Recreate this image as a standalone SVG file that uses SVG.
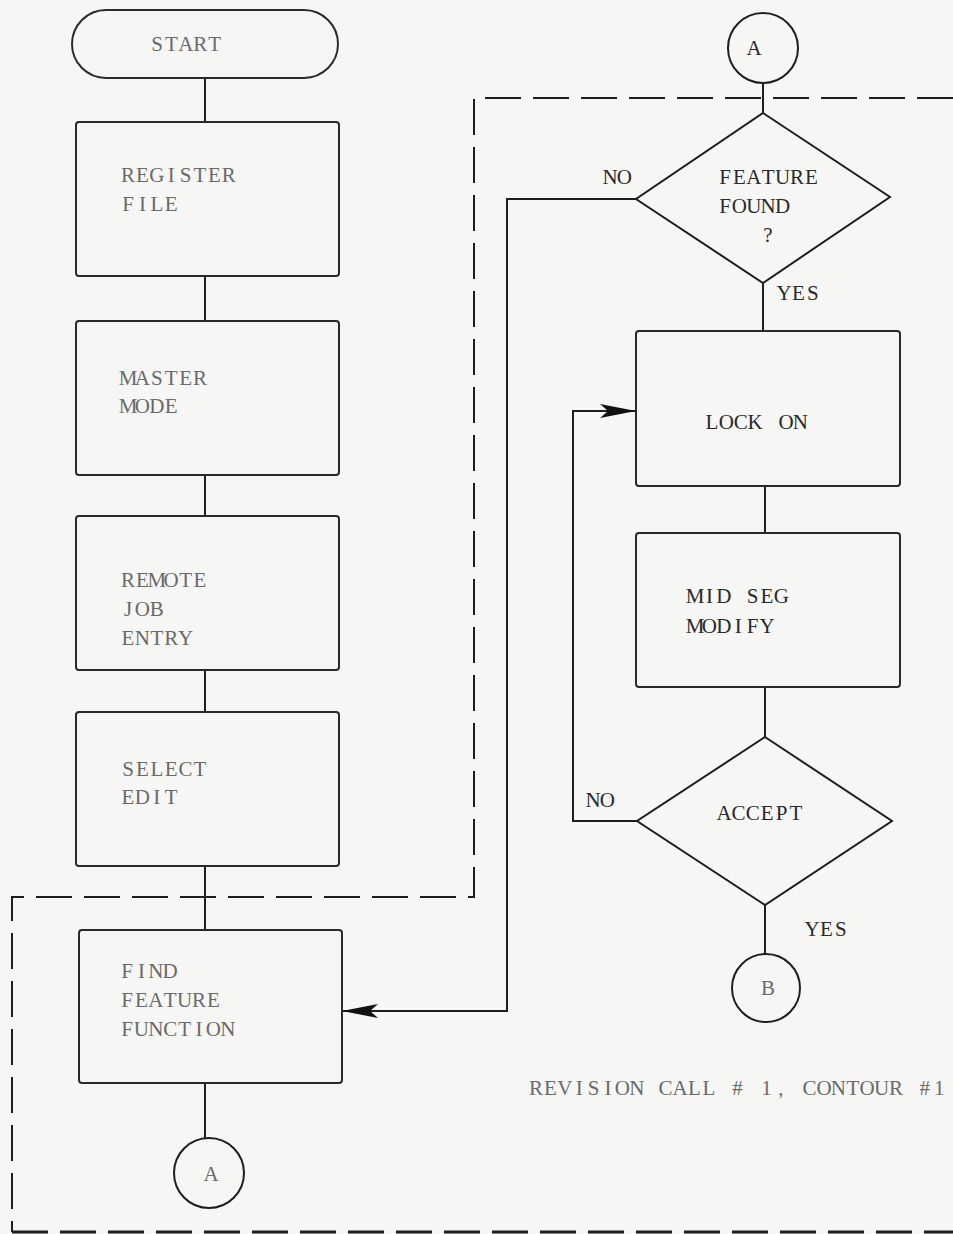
<svg xmlns="http://www.w3.org/2000/svg" width="953" height="1234" viewBox="0 0 953 1234">
<style>
.s{fill:none;stroke:#1e1e1e;stroke-width:2}
.b{fill:none;stroke:#2a2a2a;stroke-width:2}
.d{fill:none;stroke:#1e1e1e;stroke-width:2;stroke-dasharray:36 12}
.t{font-family:"Liberation Serif",serif;font-size:21px;fill:#2a2a2a;text-anchor:middle}
.g{fill:#6a6a6a}
</style>
<defs>
<marker id="ah" viewBox="0 0 36 14" refX="36" refY="7" markerWidth="36" markerHeight="14" markerUnits="userSpaceOnUse" orient="auto">
<path d="M0,0 L36,7 L0,14 L8,7 Z" fill="#111"/>
</marker>
</defs>
<rect width="953" height="1234" fill="#f6f6f4"/>
<g id="connectors">
<path class="s" d="M205,78 V122 M205,276 V321 M205,475 V516 M205,670 V712 M205,866 V930 M205,1083 V1138"/>
<path class="s" d="M763,83 V113 M763,283 V331 M765,486 V533 M765,687 V737 M765,905 V954"/>
<path class="s" d="M636,199 H507 V1011 H342" marker-end="url(#ah)"/>
<path class="s" d="M637,821 H573 V411 H636" marker-end="url(#ah)"/>
<path class="d" d="M953,98 H474 V897 H12 V1232"/>
<path class="d" d="M12,1232 H953" style="stroke-width:3"/>
</g>
<g id="start"><rect class="b" x="72" y="10" width="266" height="68" rx="34"/><text class="t g" x="157 171.4 185.8 200.2 214.6" y="51">START</text></g>
<g id="register"><rect class="b" x="76" y="122" width="263" height="154" rx="3"/><text class="t g" x="128 142.4 156.8 171.2 185.6 200 214.4 228.8" y="182">REGISTER</text><text class="t g" x="128 142.4 156.8 171.2" y="211">FILE</text></g>
<g id="master"><rect class="b" x="76" y="321" width="263" height="154" rx="3"/><text class="t g" x="128 142.4 156.8 171.2 185.6 200" y="385">MASTER</text><text class="t g" x="128 142.4 156.8 171.2" y="413">MODE</text></g>
<g id="remote"><rect class="b" x="76" y="516" width="263" height="154" rx="3"/><text class="t g" x="128 142.4 156.8 171.2 185.6 200" y="587">REMOTE</text><text class="t g" x="128 142.4 156.8" y="616">JOB</text><text class="t g" x="128 142.4 156.8 171.2 185.6" y="645">ENTRY</text></g>
<g id="select"><rect class="b" x="76" y="712" width="263" height="154" rx="3"/><text class="t g" x="128 142.4 156.8 171.2 185.6 200" y="776">SELECT</text><text class="t g" x="128 142.4 156.8 171.2" y="804">EDIT</text></g>
<g id="find"><rect class="b" x="79" y="930" width="263" height="153" rx="3"/><text class="t g" x="127 141.4 155.8 170.2" y="978">FIND</text><text class="t g" x="127 141.4 155.8 170.2 184.6 199 213.4" y="1007">FEATURE</text><text class="t g" x="127 141.4 155.8 170.2 184.6 199 213.4 227.8" y="1036">FUNCTION</text></g>
<g id="connA1"><circle class="s" cx="209" cy="1173" r="35"/><text class="t g" x="211" y="1181">A</text></g>
<g id="connA2"><circle class="s" cx="763" cy="48" r="35"/><text class="t" x="754" y="55">A</text></g>
<g id="found"><path class="s" d="M763,113 L890,197 L763,283 L636,199 Z"/><text class="t" x="725 739.4 753.8 768.2 782.6 797 811.4" y="184">FEATURE</text><text class="t" x="725 739.4 753.8 768.2 782.6" y="213">FOUND</text><text class="t" x="768" y="242">?</text>
<text class="t" x="610 624.4" y="184">NO</text><text class="t" x="784 798.4 812.8" y="300">YES</text></g>
<g id="lockon"><rect class="b" x="636" y="331" width="264" height="155" rx="3"/><text class="t" x="712 726.4 740.8 755.2 771 786 800.4" y="429">LOCK ON</text></g>
<g id="midseg"><rect class="b" x="636" y="533" width="264" height="154" rx="3"/><text class="t" x="695 709.4 723.8 738.2 752.6 767 781.4" y="603">MID SEG</text><text class="t" x="695 709.4 723.8 738.2 752.6 767" y="633">MODIFY</text></g>
<g id="accept"><path class="s" d="M765,737 L892,821 L765,905 L637,821 Z"/><text class="t" x="724 738.4 752.8 767.2 781.6 796" y="820">ACCEPT</text>
<text class="t" x="593 607.4" y="807">NO</text><text class="t" x="812 826.4 840.8" y="936">YES</text></g>
<g id="connB"><circle class="s" cx="766" cy="988" r="34"/><text class="t g" x="768" y="995">B</text></g>
<g id="caption"><text class="t g" x="536 550.4 564.8 579.2 593.6 608 622.4 636.8 651.2 665.6 680 694.4 708.8 723.2 737.6 752 766.4 780.8 795.2 809.6 824 838.4 852.8 867.2 881.6 896 910.4 924.8 939.2" y="1095">REVISION CALL # 1, CONTOUR #1</text></g>
</svg>
